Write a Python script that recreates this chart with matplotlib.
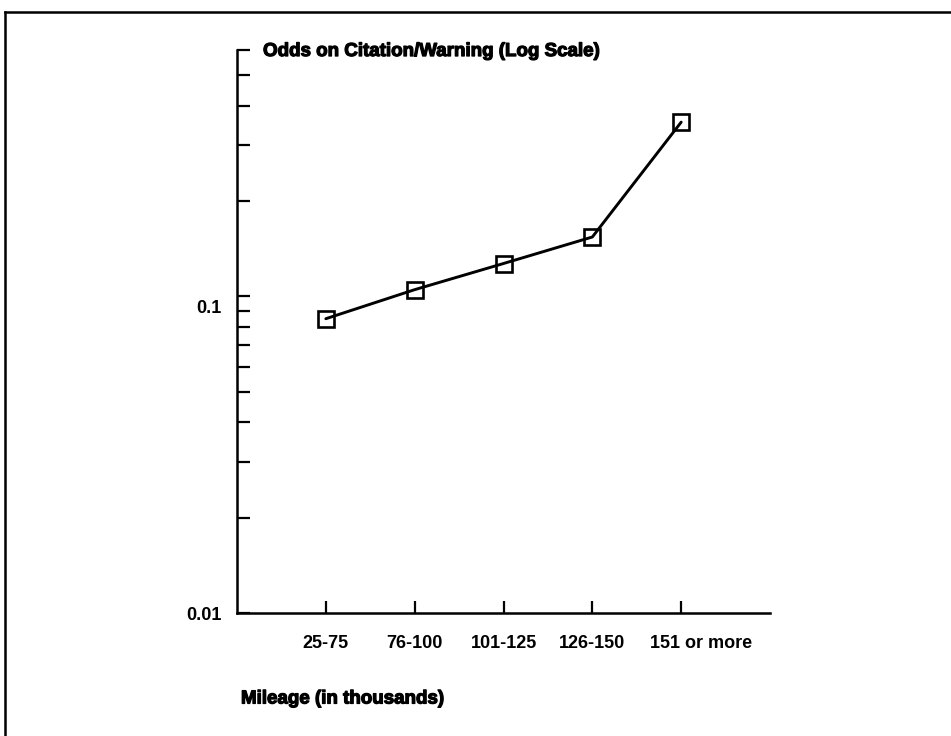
import matplotlib
matplotlib.use("Agg")
import matplotlib.pyplot as plt
import matplotlib.patheffects as pe
from matplotlib.lines import Line2D
from matplotlib.transforms import ScaledTranslation
from matplotlib.ticker import FixedLocator, FixedFormatter, NullFormatter

# Odds on citation vs. warning by vehicle mileage group
categories = ["25-75", "76-100", "101-125", "126-150", "151 or more"]
odds = [0.085, 0.105, 0.127, 0.154, 0.355]

y_major = [0.01, 0.1]
y_major_labels = ["0.01", "0.1"]
y_minor = [0.02, 0.03, 0.04, 0.05, 0.06, 0.07, 0.08, 0.09,
           0.2, 0.3, 0.4, 0.5, 0.6]

title_text = "Odds on Citation/Warning (Log Scale)"
xlabel_text = "Mileage (in thousands)"

plt.rcParams["font.family"] = ["Liberation Sans", "DejaVu Sans"]

fig = plt.figure(figsize=(9.51, 7.36), dpi=100)
ax = fig.add_axes([0.2492, 0.1671, 0.5605, 0.7650])

xpos = list(range(len(categories)))
ax.plot(xpos, odds, color="black", lw=2.1, marker="s", ms=12,
        mfc="none", mec="black", mew=1.9, solid_capstyle="round",
        clip_on=False, zorder=3)

ax.set_yscale("log")
ax.set_ylim(0.01, 0.6)
ax.set_xlim(-1, 5)

ax.yaxis.set_major_locator(FixedLocator(y_major))
ax.yaxis.set_major_formatter(FixedFormatter(y_major_labels))
ax.yaxis.set_minor_locator(FixedLocator(y_minor))
ax.yaxis.set_minor_formatter(NullFormatter())

ax.set_xticks(xpos)
ax.set_xticklabels(categories)

for side in ("top", "right"):
    ax.spines[side].set_visible(False)
for side in ("left", "bottom"):
    ax.spines[side].set_linewidth(1.8)
    ax.spines[side].set_capstyle("projecting")

ax.tick_params(axis="both", which="both", direction="in", length=9,
               width=1.6, color="black")
ax.tick_params(axis="x", pad=16, labelsize=13)
ax.tick_params(axis="y", pad=11, labelsize=13)

xlabels = ax.get_xticklabels()
ylabels = ax.get_yticklabels()
for lbl in xlabels + ylabels:
    lbl.set_fontweight("bold")

# hand-set nudges of individual labels (in points)
xlabels[-1].set_transform(xlabels[-1].get_transform()
                          + ScaledTranslation(14 / 72, 0, fig.dpi_scale_trans))
ylabels[1].set_transform(ylabels[1].get_transform()
                         + ScaledTranslation(0, -7 / 72, fig.dpi_scale_trans))

heavy = [pe.withStroke(linewidth=0.9, foreground="black")]
fig.text(0.2766, 0.930, title_text, ha="left", va="center",
         fontsize=13.5, fontweight="bold", path_effects=heavy)
fig.text(0.2534, 0.0503, xlabel_text, ha="left", va="center",
         fontsize=13.5, fontweight="bold", path_effects=heavy)

# page frame (top and left edges)
fig.add_artist(Line2D([0.0053, 1.0], [0.9837, 0.9837],
                      transform=fig.transFigure, color="black", lw=1.8))
fig.add_artist(Line2D([0.0053, 0.0053], [0.0, 0.9837],
                      transform=fig.transFigure, color="black", lw=1.8))

fig.savefig("out.png", dpi=100)
